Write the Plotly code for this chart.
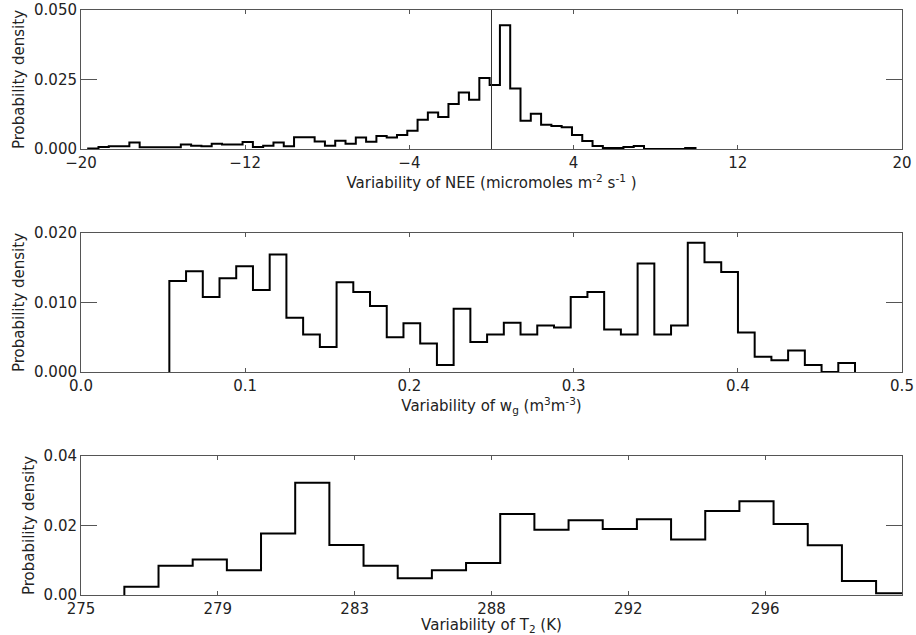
import plotly.graph_objects as go

# ---------------- data ----------------
# Panel 1: NEE variability histogram (bin width ~0.5)
nee_start = -19.65
nee_width = 0.5015
nee_density = [
    0.0002, 0.0007, 0.0010, 0.0010, 0.0023, 0.0006, 0.0006, 0.0006, 0.0006,
    0.0016, 0.0012, 0.0010, 0.0019, 0.0016, 0.0016, 0.0025, 0.0007, 0.0012,
    0.0023, 0.0010, 0.0042, 0.0042, 0.0027, 0.0012, 0.0030, 0.0019, 0.0041,
    0.0026, 0.0047, 0.0041, 0.0050, 0.0066, 0.0105, 0.0131, 0.0115, 0.0162,
    0.0203, 0.0177, 0.0255, 0.0230, 0.0445, 0.0218, 0.0102, 0.0127, 0.0087,
    0.0083, 0.0078, 0.0050, 0.0029, 0.0011, 0.0004, 0.0004, 0.0007, 0.0011,
    0.0, 0.0, 0.0, 0.0, 0.0004,
]
nee_marker = 0.0
nee_ticks = [-20, -12, -4, 4, 12, 20]
nee_ticktext = ["\u221220", "\u221212", "\u22124", "4", "12", "20"]
nee_yticks = [0.0, 0.025, 0.05]
nee_yticktext = ["0.000", "0.025", "0.050"]

# Panel 2: w_g variability histogram (bin width ~0.0102)
wg_start = 0.0538
wg_width = 0.010185
wg_density = [
    0.0131, 0.0145, 0.0108, 0.0135, 0.0152, 0.0118, 0.0169, 0.0078, 0.0054,
    0.0036, 0.0129, 0.0115, 0.0095, 0.0050, 0.0070, 0.0041, 0.0010, 0.0091,
    0.0043, 0.0054, 0.0071, 0.0054, 0.0067, 0.0064, 0.0108, 0.0115, 0.0061,
    0.0054, 0.0156, 0.0054, 0.0067, 0.0186, 0.0158, 0.0144, 0.0057, 0.0022,
    0.0017, 0.0031, 0.0010, 0.0, 0.0013,
]
wg_ticks = [0.0, 0.1, 0.2, 0.3, 0.4, 0.5]
wg_ticktext = ["0.0", "0.1", "0.2", "0.3", "0.4", "0.5"]
wg_yticks = [0.0, 0.01, 0.02]
wg_yticktext = ["0.000", "0.010", "0.020"]

# Panel 3: T2 variability histogram (bin width ~1.04 K)
t2_start = 276.32
t2_width = 1.0405
t2_density = [
    0.0024, 0.0084, 0.0102, 0.0071, 0.0177, 0.0323, 0.0144, 0.0084, 0.0048,
    0.0071, 0.0092, 0.0233, 0.0188, 0.0215, 0.0190, 0.0218, 0.0160, 0.0242,
    0.0270, 0.0204, 0.0143, 0.0040, 0.0005,
]
t2_ticks = [275 + 25 * k / 6 for k in range(7)]
t2_ticktext = ["275", "279", "283", "288", "292", "296", "300"]
t2_yticks = [0.0, 0.02, 0.04]
t2_yticktext = ["0.00", "0.02", "0.04"]

# ---------------- figure ----------------
W, H = 916, 635
ML, MR, MT, MB = 81, 14, 10, 40
FONT = "DejaVu Sans"
FS = 15
TXT = "#222222"
AX = "#555555"


def step_trace(start, width, vals, xa, ya):
    edges = [start + width * i for i in range(len(vals) + 1)]
    xs = [edges[0]] + edges[:-1] + [edges[-1]]
    ys = [0.0] + list(vals) + [0.0]
    return go.Scatter(x=xs, y=ys, mode="lines", line=dict(color="black", width=2, shape="hv"),
                      xaxis=xa, yaxis=ya, showlegend=False, hoverinfo="skip")


fig = go.Figure()
fig.add_trace(step_trace(nee_start, nee_width, nee_density, "x", "y"))
fig.add_trace(step_trace(wg_start, wg_width, wg_density, "x2", "y2"))
fig.add_trace(step_trace(t2_start, t2_width, t2_density, "x3", "y3"))

# vertical reference line at NEE = 0
fig.add_trace(go.Scatter(x=[nee_marker, nee_marker], y=[nee_yticks[0], nee_yticks[-1]], mode="lines",
                         line=dict(color="#333333", width=1), xaxis="x", yaxis="y",
                         showlegend=False, hoverinfo="skip"))

plot_h = H - MT - MB
panel_px = 139
gap_px = 84


def dom(i):
    top = MT + i * (panel_px + gap_px)
    bot = top + panel_px
    return [(H - MB - bot) / plot_h, (H - MB - top) / plot_h]


def xaxis(rng, tv, tt, title, anchor):
    return dict(range=rng, tickvals=tv, ticktext=tt, ticks="inside", ticklen=4, tickwidth=1,
                tickcolor=AX, showline=True, linecolor=AX, linewidth=1, mirror="ticks",
                showgrid=False, zeroline=False, anchor=anchor,
                tickfont=dict(family=FONT, size=FS, color=TXT),
                title=dict(text=title, font=dict(family=FONT, size=FS, color=TXT), standoff=3),
                automargin=False)


def yaxis(rng, tv, tt, anchor, d):
    return dict(range=rng, tickvals=tv, ticktext=tt, ticks="inside", ticklen=16, tickwidth=1,
                tickcolor=AX, showline=True, linecolor=AX, linewidth=1, mirror="ticks",
                showgrid=False, zeroline=False, anchor=anchor, domain=d,
                tickfont=dict(family=FONT, size=FS, color=TXT),
                title=dict(text="Probability density", font=dict(family=FONT, size=FS, color=TXT), standoff=5),
                automargin=False)


fig.update_layout(
    width=W, height=H,
    margin=dict(l=ML, r=MR, t=MT, b=MB),
    paper_bgcolor="white", plot_bgcolor="white",
    xaxis=xaxis([-20, 20], nee_ticks, nee_ticktext,
                "Variability of NEE (micromoles m<sup>-2</sup> s<sup>-1</sup> )", "y"),
    yaxis=yaxis([0, 0.05], nee_yticks, nee_yticktext, "x", dom(0)),
    xaxis2=xaxis([0, 0.5], wg_ticks, wg_ticktext,
                 "Variability of w<sub>g</sub> (m<sup>3</sup>m<sup>-3</sup>)", "y2"),
    yaxis2=yaxis([0, 0.02], wg_yticks, wg_yticktext, "x2", dom(1)),
    xaxis3=xaxis([275, 300], t2_ticks, t2_ticktext,
                 "Variability of T<sub>2</sub> (K)", "y3"),
    yaxis3=yaxis([0, 0.04], t2_yticks, t2_yticktext, "x3", dom(2)),
)

fig.write_html("out.html")
